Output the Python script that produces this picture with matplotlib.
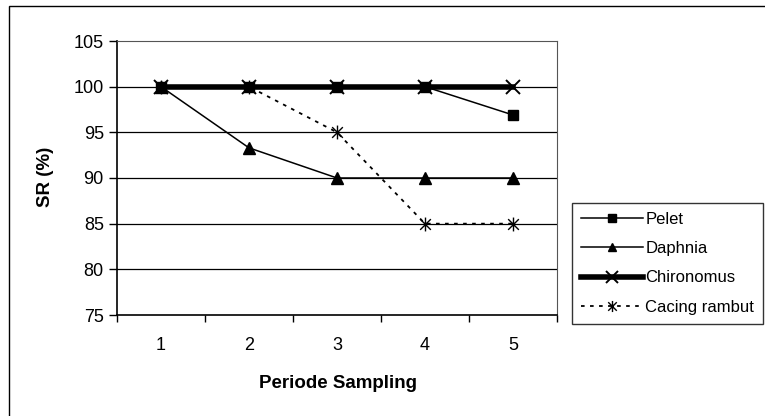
import matplotlib
matplotlib.use("Agg")
import matplotlib.pyplot as plt
from matplotlib.path import Path
from matplotlib.patches import Rectangle

periods = [1, 2, 3, 4, 5]
pelet = [100, 100, 100, 100, 96.9]
daphnia = [100, 93.3, 90, 90, 90]
chironomus = [100, 100, 100, 100, 100]
cacing = [100, 100, 95, 85, 85]
yticks = [75, 80, 85, 90, 95, 100, 105]

plt.rcParams['font.family'] = ['Liberation Sans', 'DejaVu Sans']

W, H = 765, 416
fig = plt.figure(figsize=(W / 100, H / 100), dpi=100)

# outer chart frame
fig.patches.append(Rectangle((9 / W, -0.05), 1.2, 1 - 6 / H + 0.05, transform=fig.transFigure,
                             fill=False, edgecolor='black', linewidth=1.0))

L, R, T, B = 117, 557, 41, 315
ax = fig.add_axes([L / W, 1 - B / H, (R - L) / W, (B - T) / H])

star = Path([(-1, -1), (1, 1), (-1, 1), (1, -1), (0, -1.3), (0, 1.3)],
            [Path.MOVETO, Path.LINETO, Path.MOVETO, Path.LINETO, Path.MOVETO, Path.LINETO])

ax.plot(periods, cacing, color='black', linestyle=(0, (2, 3)), linewidth=1.3,
        marker=star, markersize=10, markeredgewidth=1.0, fillstyle='none',
        label='Cacing rambut', zorder=3)
ax.plot(periods, daphnia, color='black', linewidth=1.1, marker='^', markersize=8,
        label='Daphnia', zorder=4)
ax.plot(periods, chironomus, color='black', linewidth=4.0, marker='x', markersize=10,
        markeredgewidth=1.4, label='Chironomus', zorder=5)
ax.plot(periods, pelet, color='black', linewidth=1.1, marker='s', markersize=7.5,
        label='Pelet', zorder=6)

ax.set_xlim(0.5, 5.5)
ax.set_ylim(75, 105)
ax.set_yticks(yticks)
ax.set_xticks([0.5, 1.5, 2.5, 3.5, 4.5, 5.5])
ax.set_xticklabels([])
for p in periods:
    ax.text(p, -0.11, str(p), transform=ax.get_xaxis_transform(), ha='center', va='center',
            fontsize=13)
ax.tick_params(axis='both', direction='out', length=6, width=1.0, labelsize=13, pad=3.5)
ax.tick_params(axis='x', length=5)

for y in [80, 85, 90, 95, 100]:
    ax.axhline(y, color='black', linewidth=0.9, zorder=1)

ax.spines['top'].set_linestyle((0, (1, 1)))
ax.spines['top'].set_color('#555555')
ax.spines['right'].set_linestyle((0, (1, 1)))
ax.spines['right'].set_color('#555555')
for s in ['left', 'bottom']:
    ax.spines[s].set_linewidth(1.2)

fig.text(45 / W, 1 - 177 / H, 'SR (%)', rotation=90, ha='center', va='center',
         fontsize=13.5, fontweight='bold')
fig.text(338 / W, 1 - 383 / H, 'Periode Sampling', ha='center', va='center',
         fontsize=13.5, fontweight='bold')

handles, labels = ax.get_legend_handles_labels()
order = ['Pelet', 'Daphnia', 'Chironomus', 'Cacing rambut']
hmap = dict(zip(labels, handles))
leg = fig.legend([hmap[k] for k in order], order, loc='upper left',
                 bbox_to_anchor=(572 / W, 1 - 203 / H), borderaxespad=0,
                 frameon=True, fancybox=False, edgecolor='black', fontsize=12,
                 handlelength=3.7, handletextpad=0.15, labelspacing=0.85,
                 borderpad=0.55, markerscale=0.8)
leg.get_frame().set_linewidth(1.0)

fig.savefig('out.png', dpi=100)
